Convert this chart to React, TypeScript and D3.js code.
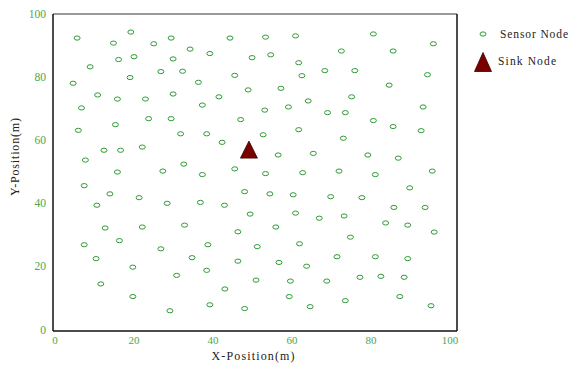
import React, { useRef, useEffect } from "react";
import * as d3 from "d3";

// sensor node positions in metres
const sensorX = [
  5.6, 19.2, 14.8, 25.0, 29.4, 44.3, 34.2, 39.2, 16.1, 20.0, 29.9, 8.9, 26.8, 32.3, 45.5,
  4.6, 19.0, 36.3, 10.8, 15.8, 22.9, 29.9, 41.5, 48.9, 6.7, 37.3, 23.7, 29.4, 47.0, 5.9,
  15.3, 31.8, 38.4, 42.3, 12.4, 16.6, 22.1, 7.7, 32.6, 15.8, 27.3, 37.3, 45.5,
  53.3, 60.9, 80.6, 95.8, 49.9, 54.6, 72.5, 85.6, 61.7, 62.5, 68.3, 75.9, 94.3, 57.2,
  84.6, 64.1, 75.1, 53.1, 59.1, 69.0, 73.5, 93.2, 80.6, 85.6, 92.7, 52.7, 61.7, 73.0,
  56.5, 65.4, 79.2, 86.9, 53.3, 62.7, 71.9, 81.1, 95.5,
  7.4, 13.9, 21.3, 10.6, 28.4, 36.8, 42.9, 48.0, 49.4, 12.7, 22.1, 32.8, 46.3, 7.4,
  16.3, 26.8, 38.7, 10.4, 19.7, 34.7, 46.3, 30.8, 38.4, 11.6, 43.0, 19.7, 39.2, 29.1, 48.0,
  54.4, 60.3, 69.8, 77.7, 89.8, 60.9, 66.9, 73.2, 85.8, 93.7, 83.7, 89.3, 55.9, 96.0,
  74.8, 51.2, 61.9, 56.7, 63.7, 71.4, 81.1, 89.3, 50.9, 59.6, 68.8, 77.2, 82.5, 88.4,
  59.3, 87.3, 64.6, 73.5, 95.2,
];
const sensorY = [
  92.7, 94.6, 91.1, 90.9, 92.7, 92.7, 89.2, 87.8, 85.9, 86.8, 86.1, 83.6, 82.1, 82.2, 80.9,
  78.4, 80.2, 78.7, 74.7, 73.4, 73.4, 75.0, 74.1, 76.3, 70.6, 71.5, 67.2, 67.2, 66.9, 63.5,
  65.3, 62.4, 62.4, 59.7, 57.2, 57.2, 58.2, 54.1, 52.8, 50.3, 50.6, 49.5, 51.3,
  93.0, 93.4, 94.0, 90.9, 86.5, 87.4, 88.6, 88.6, 84.9, 80.8, 82.4, 82.4, 81.1, 76.8,
  77.8, 72.8, 74.1, 69.9, 70.9, 69.1, 69.1, 70.9, 66.6, 64.7, 63.4, 62.1, 63.7, 61.0,
  55.7, 56.2, 55.7, 54.7, 49.8, 50.1, 50.6, 49.5, 50.6,
  46.0, 43.4, 42.2, 39.8, 40.4, 40.7, 39.8, 44.1, 37.0, 32.6, 32.9, 33.5, 31.4, 27.3,
  28.6, 26.0, 27.3, 22.9, 20.2, 23.2, 22.1, 17.6, 19.2, 14.9, 13.3, 10.9, 8.3, 6.4, 7.1,
  43.4, 43.1, 42.5, 42.2, 45.3, 37.3, 35.7, 36.4, 39.1, 39.1, 34.2, 33.5, 32.9, 31.3,
  29.7, 26.7, 27.6, 21.7, 20.5, 23.5, 23.5, 22.9, 16.1, 15.8, 15.8, 17.0, 17.3, 17.0,
  10.9, 10.9, 7.7, 9.6, 8.0,
];
const sinkNode = [49.1, 57.4];
const tickValues = [0, 20, 40, 60, 80, 100];
const legendLabels = ["Sensor Node", "Sink Node"];

const App: React.FC = () => {
  const svgRef = useRef<SVGSVGElement | null>(null);

  useEffect(() => {
    if (!svgRef.current) return;
    const svg = d3.select(svgRef.current);
    svg.selectAll("*").remove();

    const x = d3.scaleLinear().domain([0, 100]).range([55, 450]);
    const y = d3.scaleLinear().domain([0, 100]).range([331, 15]);
    const frame = { left: 53, right: 457, top: 14, bottom: 331 };
    const green = "#2f9a35";
    const tickGreen = "#4aa84a";
    const sinkFill = "#7a0000";

    svg.append("rect").attr("width", 573).attr("height", 365).attr("fill", "#fff");

    // frame
    svg.append("line")
      .attr("x1", frame.left).attr("x2", frame.right)
      .attr("y1", frame.top).attr("y2", frame.top)
      .attr("stroke", "#777").attr("stroke-width", 1.5);
    svg.append("line")
      .attr("x1", frame.right).attr("x2", frame.right)
      .attr("y1", frame.top).attr("y2", frame.bottom)
      .attr("stroke", "#111").attr("stroke-width", 1.5);
    svg.append("line")
      .attr("x1", frame.left).attr("x2", frame.left)
      .attr("y1", frame.top).attr("y2", frame.bottom)
      .attr("stroke", "#111").attr("stroke-width", 1.5);
    svg.append("line")
      .attr("x1", frame.left).attr("x2", frame.right)
      .attr("y1", frame.bottom).attr("y2", frame.bottom)
      .attr("stroke", "#111").attr("stroke-width", 1.5);

    const font = "'Liberation Serif', 'Times New Roman', serif";

    // tick labels
    svg.selectAll(".xt").data(tickValues).enter().append("text")
      .attr("x", (d) => x(d)).attr("y", 341)
      .attr("text-anchor", "middle").attr("dominant-baseline", "middle")
      .attr("font-family", font).attr("font-size", 11)
      .attr("fill", tickGreen)
      .text((d) => d);
    svg.selectAll(".yt").data(tickValues).enter().append("text")
      .attr("x", 46).attr("y", (d) => y(d))
      .attr("text-anchor", "end").attr("dominant-baseline", "middle")
      .attr("font-family", font).attr("font-size", 11.5)
      .attr("fill", tickGreen)
      .text((d) => d);

    // axis titles
    svg.append("text")
      .attr("x", 253).attr("y", 357)
      .attr("text-anchor", "middle").attr("dominant-baseline", "middle")
      .attr("font-family", font).attr("font-size", 12).attr("fill", "#222")
      .attr("textLength", 83).attr("lengthAdjust", "spacing")
      .text("X-Position(m)");
    svg.append("text")
      .attr("transform", "translate(16,157) rotate(-90)")
      .attr("text-anchor", "middle").attr("dominant-baseline", "middle")
      .attr("font-family", font).attr("font-size", 12).attr("fill", "#222")
      .attr("textLength", 78).attr("lengthAdjust", "spacing")
      .text("Y-Position(m)");

    // sensor nodes
    const nodes = sensorX.map((v, i) => ({ x: v, y: sensorY[i] }));
    svg.selectAll(".node").data(nodes).enter().append("ellipse")
      .attr("cx", (d) => x(d.x)).attr("cy", (d) => y(d.y))
      .attr("rx", 3).attr("ry", 2.1)
      .attr("fill", "none").attr("stroke", green).attr("stroke-width", 1);

    const tri = (cx: number, cy: number, w: number, h: number) =>
      `M${cx},${cy - h / 2}L${cx + w / 2},${cy + h / 2}L${cx - w / 2},${cy + h / 2}Z`;

    // sink node
    svg.append("path")
      .attr("d", tri(x(sinkNode[0]), y(sinkNode[1]), 17, 17))
      .attr("fill", sinkFill).attr("stroke", "#3a0000").attr("stroke-width", 0.8);

    // legend
    svg.append("ellipse")
      .attr("cx", 483).attr("cy", 34).attr("rx", 3).attr("ry", 2.1)
      .attr("fill", "none").attr("stroke", green).attr("stroke-width", 1);
    svg.append("path")
      .attr("d", tri(483, 62, 17, 19))
      .attr("fill", sinkFill).attr("stroke", "#3a0000").attr("stroke-width", 0.8);
    svg.selectAll(".leg").data(legendLabels).enter().append("text")
      .attr("x", (d, i) => (i === 0 ? 500 : 498))
      .attr("y", (d, i) => (i === 0 ? 35 : 62))
      .attr("dominant-baseline", "middle")
      .attr("font-family", font).attr("font-size", 11.5).attr("fill", "#222")
      .attr("textLength", (d, i) => (i === 0 ? 68 : 58)).attr("lengthAdjust", "spacing")
      .text((d) => d);
  }, []);

  return (
    <div style={{ position: "absolute", left: 0, top: 0 }}>
      <svg ref={svgRef} width={573} height={365} style={{ display: "block" }}></svg>
    </div>
  );
};

export default App;
